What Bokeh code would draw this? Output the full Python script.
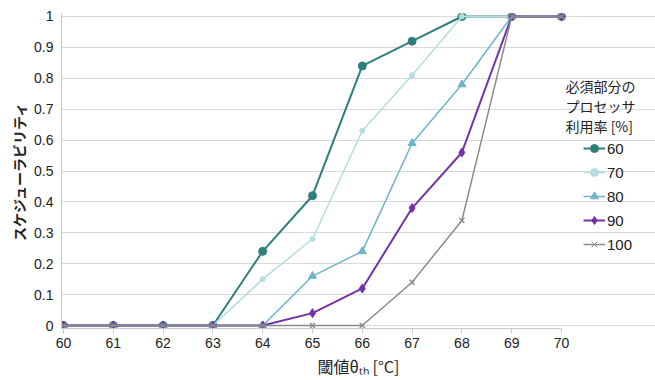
from bokeh.plotting import figure
from bokeh.models import Legend, LegendItem, Label, Range1d, FixedTicker
from bokeh.embed import file_html
from bokeh.resources import INLINE

thresholds = [60, 61, 62, 63, 64, 65, 66, 67, 68, 69, 70]
series_names = ["60", "70", "80", "90", "100"]
u60 = [0, 0, 0, 0, 0.24, 0.42, 0.84, 0.92, 1.0, 1.0, 1.0]
u70 = [0, 0, 0, 0, 0.15, 0.28, 0.63, 0.81, 1.0, 1.0, 1.0]
u80 = [0, 0, 0, 0, 0, 0.16, 0.24, 0.59, 0.78, 1.0, 1.0]
u90 = [0, 0, 0, 0, 0, 0.04, 0.12, 0.38, 0.56, 1.0, 1.0]
u100 = [0, 0, 0, 0, 0, 0, 0, 0.14, 0.34, 1.0, 1.0]
y_ticks = [0, 0.1, 0.2, 0.3, 0.4, 0.5, 0.6, 0.7, 0.8, 0.9, 1.0]
y_tick_labels = ["0", "0.1", "0.2", "0.3", "0.4", "0.5", "0.6", "0.7", "0.8", "0.9", "1"]
legend_title = ["必須部分の", "プロセッサ", "利用率 [%]"]

W, H = 655, 380
FL, FT, FB = 61, 13, 328
FR = W
PX60, PX70 = 63.0, 561.0
ppu = (PX70 - PX60) / 10.0
X0 = 60 - (PX60 - FL) / ppu
X1 = 70 + (FR - PX70) / ppu
Y0, Y1 = -0.0097, 1.0097
NAN = float("nan")

p = figure(width=W, height=H, output_backend="svg", toolbar_location=None,
           x_range=Range1d(X0, X1), y_range=Range1d(Y0, Y1),
           min_border_left=FL, min_border_right=0,
           min_border_top=FT, min_border_bottom=H - FB)
p.outline_line_color = None
p.background_fill_color = "white"
p.xgrid.grid_line_color = None
p.ygrid.grid_line_color = "#d9d9d9"
p.ygrid.grid_line_width = 1
p.ygrid.bounds = (X0, 70)

p.xaxis.ticker = FixedTicker(ticks=thresholds)
p.yaxis.ticker = FixedTicker(ticks=y_ticks)
p.yaxis.major_label_overrides = {t: l for t, l in zip(y_ticks, y_tick_labels)}
p.xaxis.bounds = (X0, 70)
for ax in (p.xaxis[0], p.yaxis[0]):
    ax.axis_line_color = "#c8c8c8"
    ax.major_label_text_font = "Liberation Sans"
    ax.major_label_text_font_size = "14px"
    ax.major_label_text_color = "#222222"
    ax.minor_tick_line_color = None
    ax.axis_label_text_font_style = "normal"
    ax.axis_label_text_color = "#222222"
p.xaxis.major_tick_line_color = "#c8c8c8"
p.xaxis.major_tick_in = 0
p.xaxis.major_tick_out = 5
p.xaxis.major_label_standoff = 4
p.yaxis.major_tick_line_color = None
p.yaxis.major_tick_out = 0
p.yaxis.major_tick_in = 0
p.yaxis.major_label_standoff = 8

p.xaxis.axis_label = "閾値θₜₕ [°C]"
p.xaxis.axis_label_text_font = "Noto Sans CJK JP"
p.xaxis.axis_label_text_font_size = "16px"
p.xaxis.axis_label_standoff = 3
p.yaxis.axis_label = "スケジューラビリティ"
p.yaxis.axis_label_text_font = "Noto Sans CJK JP"
p.yaxis.axis_label_text_font_size = "14px"
p.yaxis.axis_label_text_font_style = "bold"
p.yaxis.axis_label_standoff = 2

styles = [
    (u60, "#2e7f7a", "circle", 8, 2.0),
    (u70, "#b5dce0", "circle", 5, 1.5),
    (u80, "#6cb4c9", "triangle", 8, 1.5),
    (u90, "#7432a8", "diamond", 9, 2.0),
    (u100, "#8a8a8a", "x", 7, 1.5),
]
items = []
for name, (vals, col, mk, sz, lw) in zip(series_names, styles):
    p.line(thresholds, vals, line_color=col, line_width=lw)
    p.scatter(thresholds, vals, marker=mk, size=sz, fill_color=col,
              line_color=col, line_width=1.5 if mk == "x" else 1)
    # legend-only glyphs (a single undrawn NaN point) with smaller markers
    l_line = p.line([NAN], [NAN], line_color=col, line_width=lw)
    l_mk = p.scatter([NAN], [NAN], marker=mk, size=max(4, sz - 3), fill_color=col,
                     line_color=col, line_width=1)
    items.append(LegendItem(label=name, renderers=[l_line, l_mk]))

legend = Legend(items=items, location=(583 - FL, FB - 254), padding=0, margin=0,
                spacing=4, glyph_height=20, glyph_width=22, label_height=20,
                label_standoff=2, label_text_font="Liberation Sans",
                label_text_font_size="15px", label_text_color="#222222",
                background_fill_alpha=0, border_line_color=None)
p.add_layout(legend, "center")

def px_to_x(px):
    return X0 + (px - FL) / (FR - FL) * (X1 - X0)

def py_to_y(py):
    return Y0 + (FB - py) / (FB - FT) * (Y1 - Y0)

for i, line in enumerate(legend_title):
    p.add_layout(Label(x=px_to_x(565), y=py_to_y(85 + 20 * i), text=line,
                       text_font="Noto Sans CJK JP", text_font_size="14px",
                       text_color="#222222", text_baseline="middle",
                       text_align="left"))

open("out.html", "w").write(file_html(p, INLINE))
